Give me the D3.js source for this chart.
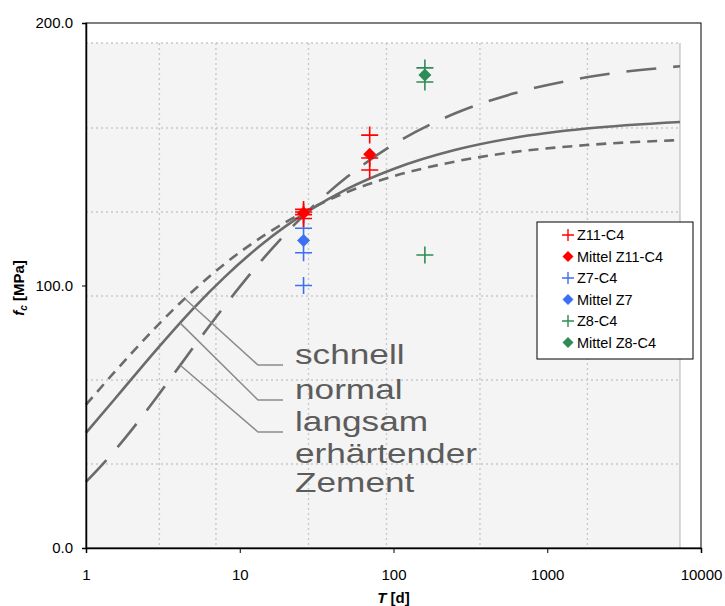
<!DOCTYPE html>
<html>
<head>
<meta charset="utf-8">
<script src="https://cdn.jsdelivr.net/npm/d3@7"></script>
<style>
  body { margin: 0; background: #fff; }
  svg { font-family: Arial, "Liberation Sans", sans-serif; }
</style>
</head>
<body>
<div id="chart"></div>
<script>
// curve data (days, MPa)
var curveDays = [1, 1.5, 2, 3, 5, 8, 14, 28, 50, 100, 250, 600, 1800, 7300];
var schnell = [54.6, 66.4, 74.5, 85.5, 98.1, 108.3, 118.6, 128.9, 135.6, 141.6, 147.2, 150.8, 153.5, 155.4];
var normal  = [43.9, 56.0, 64.7, 76.8, 91.3, 103.3, 115.8, 128.4, 136.8, 144.4, 151.6, 156.2, 159.8, 162.3];
var langsam = [25.2, 36.4, 45.3, 58.8, 76.5, 92.3, 109.8, 128.5, 141.4, 153.7, 165.5, 173.1, 179.3, 183.5];

// grid of the scanned picture
var scanGridX = [3, 7, 28, 90, 365, 1825];
var scanGridY = [32, 64, 96, 128, 160, 192.4];
var scanEndDay = 7300;

// measured points
var z11Days = [26, 26, 26, 26, 70, 70, 70];
var z11Vals = [125.5, 127, 128, 129, 157.3, 148.6, 144];
var z11MeanDays = [26, 70];
var z11MeanVals = [127.6, 150];
var z7Days = [26, 26, 26];
var z7Vals = [121.8, 112.5, 100];
var z7MeanDays = [26];
var z7MeanVals = [117.1];
var z8Days = [160, 160, 160];
var z8Vals = [182.9, 177.5, 111.6];
var z8MeanDays = [160];
var z8MeanVals = [180.2];

var xTicks = [1, 10, 100, 1000, 10000];
var yTicks = [0, 100, 200];

var annotLines = ["schnell", "normal", "langsam", "erhärtender", "Zement"];
var legendLabels = ["Z11-C4", "Mittel Z11-C4", "Z7-C4", "Mittel Z7", "Z8-C4", "Mittel Z8-C4"];

var W = 725, H = 606;
var margin = { top: 23, right: 24, bottom: 58, left: 86 },
    width = W - margin.left - margin.right,
    height = H - margin.top - margin.bottom;

var svg = d3.select("#chart").append("svg")
    .attr("width", W).attr("height", H);
var g = svg.append("g")
    .attr("transform", "translate(" + margin.left + "," + margin.top + ")");

var x = d3.scaleLog().domain([1, 10000]).range([0, width]);
var y = d3.scaleLinear().domain([0, 200]).range([height, 0]);

// scanned background
g.append("rect")
    .attr("x", x(1)).attr("y", y(192.4))
    .attr("width", x(scanEndDay) - x(1))
    .attr("height", y(0) - y(192.4))
    .attr("fill", "#f4f4f4");

g.selectAll(".sgx").data(scanGridX).enter().append("line")
    .attr("x1", function (d) { return x(d); }).attr("x2", function (d) { return x(d); })
    .attr("y1", y(192.4)).attr("y2", y(0))
    .attr("stroke", "#c8c8c8").attr("stroke-width", 1.4).attr("stroke-dasharray", "2,3");
g.selectAll(".sgy").data(scanGridY).enter().append("line")
    .attr("x1", x(1)).attr("x2", x(scanEndDay))
    .attr("y1", function (d) { return y(d); }).attr("y2", function (d) { return y(d); })
    .attr("stroke", "#c8c8c8").attr("stroke-width", 1.4).attr("stroke-dasharray", "2,3");
g.append("line")
    .attr("x1", x(scanEndDay)).attr("x2", x(scanEndDay))
    .attr("y1", y(192.4)).attr("y2", y(0))
    .attr("stroke", "#bdbdbd").attr("stroke-width", 1.2);

// curves
var line = d3.line()
    .x(function (d) { return x(d[0]); })
    .y(function (d) { return y(d[1]); })
    .curve(d3.curveMonotoneX);

function drawCurve(vals, dash) {
    g.append("path")
        .datum(d3.zip(curveDays, vals))
        .attr("d", line)
        .attr("fill", "none")
        .attr("stroke", "#6b6b6b")
        .attr("stroke-width", 2.6)
        .attr("stroke-dasharray", dash);
}
drawCurve(schnell, "10,7");
drawCurve(normal, null);
drawCurve(langsam, "30,17");

// leader lines to the labels
var leaders = [
    { t: 4.4, v: schnell, row: 0 },
    { t: 4.1, v: normal, row: 1 },
    { t: 4.1, v: langsam, row: 2 }
];
var annotBase = [364, 399, 431, 463, 492];
var lineInterp = function (vals, t) {
    var i = d3.bisectLeft(curveDays, t);
    var a = Math.log(curveDays[i - 1]), b = Math.log(curveDays[i]);
    var f = (Math.log(t) - a) / (b - a);
    return vals[i - 1] + f * (vals[i] - vals[i - 1]);
};
leaders.forEach(function (l) {
    var yy = annotBase[l.row] + 1 - margin.top;
    var x0 = 258 - margin.left, x1 = 283 - margin.left;
    g.append("polyline")
        .attr("points", [[x(l.t), y(lineInterp(l.v, l.t))], [x0, yy], [x1, yy]].join(" "))
        .attr("fill", "none")
        .attr("stroke", "#8a8a8a")
        .attr("stroke-width", 1.5);
});

g.selectAll(".annot").data(annotLines).enter().append("text")
    .attr("transform", function (d, i) {
        return "translate(" + (295 - margin.left) + "," + (annotBase[i] - margin.top) + ") scale(1.28,1)";
    })
    .attr("font-size", 27.5)
    .attr("fill", "#5c5c5c")
    .text(function (d) { return d; });

// frame
g.append("rect")
    .attr("width", width).attr("height", height)
    .attr("fill", "none").attr("stroke", "#000").attr("stroke-width", 1);

// axes
var xAxis = g.append("g")
    .attr("transform", "translate(0," + height + ")")
    .call(d3.axisBottom(x).tickValues(xTicks).tickFormat(d3.format("d")).tickSizeOuter(0).tickSize(5).tickPadding(16));
var yAxis = g.append("g")
    .call(d3.axisLeft(y).tickValues(yTicks).tickFormat(d3.format(".1f")).tickSizeOuter(0).tickSize(4).tickPadding(9));
[xAxis, yAxis].forEach(function (a) {
    a.selectAll("text").attr("font-size", 15).attr("fill", "#000").attr("font-family", "Arial, 'Liberation Sans', sans-serif");
    a.selectAll("line").attr("stroke", "#000");
    a.select(".domain").attr("stroke", "#000").attr("stroke-width", 1.5);
});

// axis titles
var xt = svg.append("text")
    .attr("x", margin.left + width / 2).attr("y", 603)
    .attr("text-anchor", "middle")
    .attr("font-size", 15).attr("font-weight", "bold");
xt.append("tspan").attr("font-style", "italic").text("T");
xt.append("tspan").text(" [d]");

var yt = svg.append("text")
    .attr("transform", "translate(24,288) rotate(-90)")
    .attr("text-anchor", "middle")
    .attr("font-size", 15).attr("font-weight", "bold");
yt.append("tspan").attr("font-style", "italic").text("f");
yt.append("tspan").attr("font-style", "italic").attr("font-size", 10).attr("dy", 3).text("c");
yt.append("tspan").attr("dy", -3).text(" [MPa]");

// markers
function plus(sel, size, color, w) {
    sel.append("path")
        .attr("d", "M" + (-size / 2) + ",0H" + (size / 2) + "M0," + (-size / 2) + "V" + (size / 2))
        .attr("stroke", color).attr("stroke-width", w).attr("fill", "none");
}
function diamond(sel, size, color) {
    sel.append("path")
        .attr("d", "M0," + (-size / 2) + "L" + (size / 2) + ",0L0," + (size / 2) + "L" + (-size / 2) + ",0Z")
        .attr("fill", color);
}
var red = "#ff0000", blue = "#3d6ff2", green = "#2e8b57";

function drawPoints(days, vals, kind, color) {
    days.forEach(function (d, i) {
        var m = g.append("g").attr("transform", "translate(" + x(d) + "," + y(vals[i]) + ")");
        if (kind === "plus") plus(m, 17, color, 1.6);
        else diamond(m, 13, color);
    });
}
drawPoints(z7Days, z7Vals, "plus", blue);
drawPoints(z7MeanDays, z7MeanVals, "diamond", blue);
drawPoints(z8Days, z8Vals, "plus", green);
drawPoints(z8MeanDays, z8MeanVals, "diamond", green);
drawPoints(z11Days, z11Vals, "plus", red);
drawPoints(z11MeanDays, z11MeanVals, "diamond", red);

// legend
var legend = svg.append("g").attr("transform", "translate(537,222)");
legend.append("rect")
    .attr("width", 156).attr("height", 137)
    .attr("fill", "#fff").attr("stroke", "#000").attr("stroke-width", 1);
var legendColors = [red, red, blue, blue, green, green];
legendLabels.forEach(function (lab, i) {
    var row = legend.append("g").attr("transform", "translate(31," + (13 + i * 21.5) + ")");
    if (i % 2 === 0) plus(row, 12, legendColors[i], 1.4);
    else diamond(row, 11, legendColors[i]);
    row.append("text")
        .attr("x", 9).attr("y", 5)
        .attr("font-size", 14.5)
        .text(lab);
});
</script>
</body>
</html>
